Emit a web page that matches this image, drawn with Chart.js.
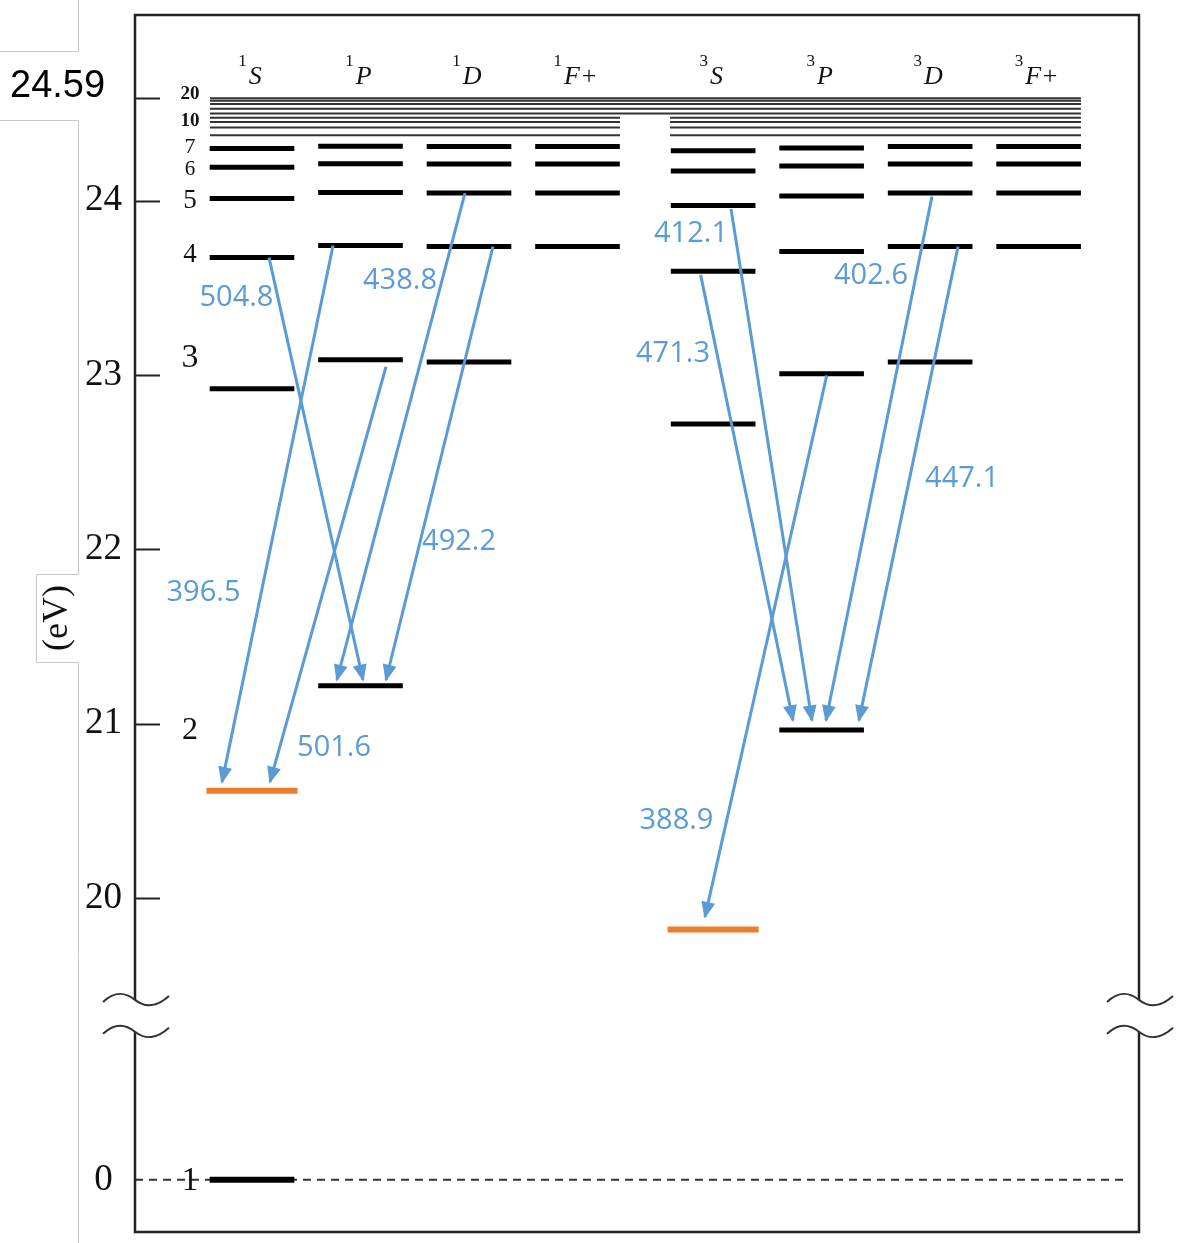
<!DOCTYPE html>
<html>
<head>
<meta charset="utf-8">
<script src="https://cdn.jsdelivr.net/npm/chart.js@4.4.0/dist/chart.umd.min.js"></script>
<style>
  body { margin: 0; background: #fff; }
  canvas { display: block; }
</style>
</head>
<body>
<canvas id="mycanvas" width="1177" height="1243"></canvas>
<script>
// term columns
var multiplicity = ['1', '1', '1', '1', '3', '3', '3', '3'];
var termNames = ['S', 'P', 'D', 'F+', 'S', 'P', 'D', 'F+'];
var columnX = [1, 2, 3, 4, 5.25, 6.25, 7.25, 8.25];

// level energies in eV (lowest n first)
var levels1S = [20.616, 22.920, 23.673, 24.011, 24.191, 24.299];
var levels1P = [21.218, 23.087, 23.742, 24.046, 24.211, 24.311];
var levels1D = [23.074, 23.736, 24.043, 24.209, 24.310];
var levels1F = [23.736, 24.043, 24.209, 24.310];
var levels3S = [19.820, 22.718, 23.594, 23.972, 24.169, 24.285];
var levels3P = [20.964, 23.007, 23.708, 24.026, 24.198, 24.302];
var levels3D = [23.074, 23.736, 24.043, 24.209, 24.310];
var levels3F = [23.736, 24.043, 24.209, 24.310];
var groundLevel = 0;
// columns whose lowest level is metastable (orange)
var metastableCols = [0, 4];

// high-n levels (n = 12, 15, 20, 30, limit) across all columns, n = 8..11 split in two groups
var rydbergFull = [24.499, 24.527, 24.553, 24.572, 24.587];
var rydbergSplit = [24.375, 24.419, 24.451, 24.475];

// transitions (nm)
var wavelengths = ['504.8', '438.8', '396.5', '501.6', '492.2', '412.1', '471.3', '388.9', '402.6', '447.1'];
var upperE = [23.673, 24.043, 23.742, 23.087, 23.736, 23.972, 23.594, 23.007, 24.043, 23.736];
var lowerE = [21.218, 21.218, 20.616, 20.616, 21.218, 20.964, 20.964, 19.820, 20.964, 20.964];

// y axis
var ionLimit = 24.59;
var tickValues = [20, 21, 22, 23, 24, ionLimit];
var tickLabels = ['20', '21', '22', '23', '24', ''];

// n labels on the left
var nLabels = ['20', '10', '7', '6', '5', '4', '3', '2', '1'];

// ---- layout (not data) ----
var groundPlot = 18.384;          // where 0 eV sits below the axis break
var breakTop = 19.416, breakBottom = 19.233;
var arrowFromX = [1.157, 2.963, 1.747, 2.235, 3.221, 5.415, 5.135, 6.297, 7.267, 7.507];
var arrowToX = [2.023, 1.783, 0.724, 1.166, 2.235, 6.161, 5.986, 5.175, 6.290, 6.594];
var arrowStartGap = [0, 0, 0, 0.04, 0, 0.02, 0.02, 0.01, 0.02, 0];
var arrowTipGap = [0.034, 0.034, 0.05, 0.05, 0.034, 0.055, 0.055, 0.072, 0.055, 0.055];
var labelX = [0.857, 2.364, 0.553, 1.756, 2.908, 5.046, 4.880, 4.912, 6.705, 7.544];
var labelE = [23.444, 23.538, 21.749, 20.861, 22.042, 23.808, 23.120, 20.442, 23.567, 22.403];
var nLabelE = [24.616, 24.462, 24.313, 24.186, 24.003, 23.693, 23.103, 20.964, groundPlot];
var nLabelFont = ['bold 19px', 'bold 19px', '22px', '21px', '27px', '27px', '34px', '32px', '33px'];

var blue = '#5B9BD5';
var orange = '#ED7D31';
var serif = "'Liberation Serif', 'DejaVu Serif', serif";

var allLevels = [levels1S, levels1P, levels1D, levels1F, levels3S, levels3P, levels3D, levels3F];
var halfW = 0.39;

function segment(x0, x1, e) {
  return [{x: x0, y: e}, {x: x1, y: e}, {x: x1, y: null}];
}

var datasets = [];

// arrows first so they sit on top
for (var i = 0; i < wavelengths.length; i++) {
  datasets.push({
    arrow: true,
    data: [{x: arrowFromX[i], y: upperE[i] - arrowStartGap[i]}, {x: arrowToX[i], y: lowerE[i] + arrowTipGap[i]}],
    borderColor: blue, borderWidth: 3, pointRadius: 0, order: 0
  });
}

for (var c = 0; c < allLevels.length; c++) {
  var pts = [];
  var orangePts = [];
  for (var k = 0; k < allLevels[c].length; k++) {
    if (k === 0 && metastableCols.indexOf(c) >= 0) {
      orangePts = orangePts.concat(segment(columnX[c] - 0.42, columnX[c] + 0.42, allLevels[c][k]));
    } else {
      pts = pts.concat(segment(columnX[c] - halfW, columnX[c] + halfW, allLevels[c][k]));
    }
  }
  datasets.push({data: pts, borderColor: '#000', borderWidth: 5, pointRadius: 0, order: 1});
  if (orangePts.length) {
    datasets.push({data: orangePts, borderColor: orange, borderWidth: 6, pointRadius: 0, order: 1});
  }
}

// ground state
datasets.push({data: segment(columnX[0] - halfW, columnX[0] + halfW, groundPlot), borderColor: '#000', borderWidth: 6, pointRadius: 0, order: 1});
datasets.push({data: segment(-0.078, 9.07, groundPlot), borderColor: '#333', borderWidth: 2, borderDash: [8, 6], pointRadius: 0, order: 3});

// high-n lines
var fullPts = [];
rydbergFull.forEach(function(e) { fullPts = fullPts.concat(segment(0.613, 8.64, e)); });
rydbergSplit.forEach(function(e) {
  fullPts = fullPts.concat(segment(0.613, 4.392, e)).concat(segment(4.853, 8.64, e));
});
datasets.push({data: fullPts, borderColor: '#333', borderWidth: 2, pointRadius: 0, order: 2});

var diagramPlugin = {
  id: 'diagram',
  afterDatasetsDraw: function(chart) {
    var ctx = chart.ctx;
    ctx.save();
    ctx.fillStyle = blue;
    chart.data.datasets.forEach(function(ds, i) {
      if (!ds.arrow) return;
      var m = chart.getDatasetMeta(i);
      var p0 = m.data[0], p1 = m.data[1];
      var dx = p1.x - p0.x, dy = p1.y - p0.y;
      var len = Math.sqrt(dx * dx + dy * dy);
      var ux = dx / len, uy = dy / len;
      var bx = p1.x - ux * 15, by = p1.y - uy * 15;
      ctx.beginPath();
      ctx.moveTo(p1.x + ux * 2, p1.y + uy * 2);
      ctx.lineTo(bx - uy * 7, by + ux * 7);
      ctx.lineTo(bx + uy * 7, by - ux * 7);
      ctx.closePath();
      ctx.fill();
    });
    ctx.restore();
  },
  afterDraw: function(chart) {
    var ctx = chart.ctx;
    var a = chart.chartArea;
    var xs = chart.scales.x, ys = chart.scales.y;
    ctx.save();

    // frame with axis breaks
    var bTop = ys.getPixelForValue(breakTop), bBot = ys.getPixelForValue(breakBottom);
    ctx.strokeStyle = '#222';
    ctx.lineWidth = 2.5;
    ctx.beginPath();
    ctx.moveTo(a.left, bTop); ctx.lineTo(a.left, a.top); ctx.lineTo(a.right, a.top); ctx.lineTo(a.right, bTop);
    ctx.moveTo(a.left, bBot); ctx.lineTo(a.left, a.bottom); ctx.lineTo(a.right, a.bottom); ctx.lineTo(a.right, bBot);
    ctx.stroke();
    ctx.lineWidth = 2;
    ctx.strokeStyle = '#333';
    [a.left, a.right].forEach(function(cx) {
      [bTop, bBot].forEach(function(cy) {
        ctx.beginPath();
        ctx.moveTo(cx - 32, cy + 2);
        ctx.bezierCurveTo(cx - 20, cy - 9, cx - 10, cy - 8, cx, cy);
        ctx.bezierCurveTo(cx + 10, cy + 8, cx + 22, cy + 7, cx + 34, cy - 4);
        ctx.stroke();
      });
    });

    // tick marks (inside)
    ctx.strokeStyle = '#222';
    ctx.lineWidth = 2;
    tickValues.forEach(function(v) {
      var py = Math.round(ys.getPixelForValue(v)) + 0.5;
      ctx.beginPath(); ctx.moveTo(a.left, py); ctx.lineTo(a.left + 25, py); ctx.stroke();
    });

    // light grey cell borders on the left
    ctx.strokeStyle = '#c8c8c8';
    ctx.lineWidth = 1;
    ctx.beginPath();
    ctx.moveTo(78.5, 0); ctx.lineTo(78.5, 51.5); ctx.lineTo(0, 51.5);
    ctx.moveTo(0, 120.5); ctx.lineTo(78.5, 120.5); ctx.lineTo(78.5, 574.5); ctx.lineTo(36.5, 574.5);
    ctx.lineTo(36.5, 662.5); ctx.lineTo(78.5, 662.5); ctx.lineTo(78.5, 1243);
    ctx.stroke();

    // ionisation label
    ctx.fillStyle = '#000';
    ctx.font = "38px 'Liberation Sans', Arial, sans-serif";
    ctx.textAlign = 'left';
    ctx.textBaseline = 'middle';
    ctx.fillText('24.59', 10, 87);

    // axis title
    ctx.save();
    ctx.translate(58, 618);
    ctx.rotate(-Math.PI / 2);
    ctx.textAlign = 'center';
    ctx.font = '36px ' + serif;
    ctx.fillStyle = '#111';
    ctx.fillText('(eV)', 0, 0);
    ctx.restore();

    // column headers
    ctx.fillStyle = '#111';
    ctx.textBaseline = 'alphabetic';
    ctx.textAlign = 'left';
    for (var c = 0; c < termNames.length; c++) {
      var cx = xs.getPixelForValue(columnX[c]) - 2;
      ctx.font = 'italic 26px ' + serif;
      var wL = ctx.measureText(termNames[c]).width;
      ctx.font = '17px ' + serif;
      var wS = ctx.measureText(multiplicity[c]).width;
      var left = cx - (wS + 2 + wL) / 2;
      ctx.fillText(multiplicity[c], left, a.top + 51);
      ctx.font = 'italic 26px ' + serif;
      ctx.fillText(termNames[c], left + wS + 2, a.top + 69);
    }

    // n labels
    ctx.textAlign = 'center';
    ctx.textBaseline = 'middle';
    var nx = xs.getPixelForValue(0.429);
    nLabels.forEach(function(t, i) {
      ctx.font = nLabelFont[i] + ' ' + serif;
      ctx.fillText(t, nx, ys.getPixelForValue(nLabelE[i]) + 1);
    });

    // wavelength labels
    ctx.fillStyle = blue;
    ctx.font = "29px 'Open Sans', 'Noto Sans', sans-serif";
    wavelengths.forEach(function(t, i) {
      ctx.fillText(t, xs.getPixelForValue(labelX[i]), ys.getPixelForValue(labelE[i]));
    });

    ctx.restore();
  }
};

var ctx = document.getElementById('mycanvas');
var chart = new Chart(ctx, {
  type: 'line',
  data: {datasets: datasets},
  options: {
    responsive: false,
    animation: false,
    events: [],
    spanGaps: false,
    elements: {line: {tension: 0, borderCapStyle: 'butt', fill: false}},
    layout: {padding: {top: 15, right: 38, bottom: 11, left: 0}},
    plugins: {legend: {display: false}, tooltip: {enabled: false}},
    scales: {
      x: {type: 'linear', min: -0.0783, max: 9.175, display: false},
      y: {
        type: 'linear', min: 18.085, max: 25.064,
        afterFit: function(s) { s.width = 135; s.paddingTop = 0; s.paddingBottom = 0; },
        afterBuildTicks: function(s) {
          s.ticks = [{value: groundPlot}].concat(tickValues.map(function(v) { return {value: v}; }));
        },
        grid: {display: false, drawTicks: false},
        border: {display: false},
        ticks: {
          autoSkip: false,
          padding: 13,
          crossAlign: 'center',
          color: '#111',
          font: {family: serif, size: 37},
          callback: function(v, i) { return i === 0 ? String(groundLevel) : tickLabels[i - 1]; }
        }
      }
    }
  },
  plugins: [diagramPlugin]
});
</script>
</body>
</html>
